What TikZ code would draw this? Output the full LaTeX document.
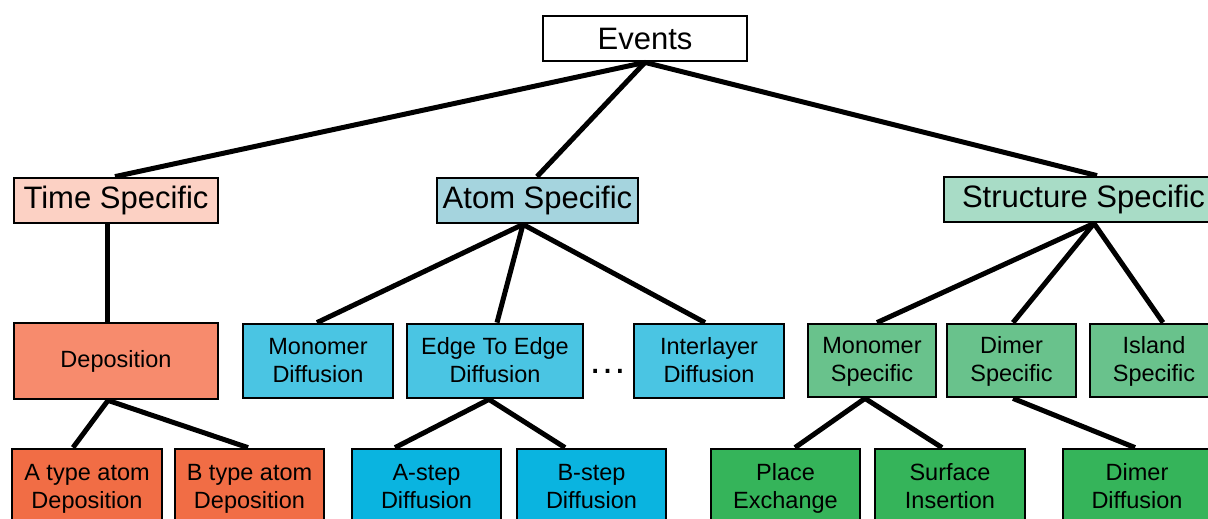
\documentclass[tikz,border=0pt]{standalone}
\usepackage{fontspec}
\setmainfont{Liberation Sans}
\usetikzlibrary{calc}

\definecolor{timeLight}{HTML}{FCD1C4}
\definecolor{timeMid}{HTML}{F78B6D}
\definecolor{timeDark}{HTML}{F16D45}
\definecolor{atomLight}{HTML}{A5D4DE}
\definecolor{atomMid}{HTML}{4AC5E3}
\definecolor{atomDark}{HTML}{0AB4E0}
\definecolor{structLight}{HTML}{A8DCC6}
\definecolor{structMid}{HTML}{69C28C}
\definecolor{structDark}{HTML}{35B45A}

% uniform line height for two-line labels
\newcommand\lnstrut{\rule[-4.5pt]{0pt}{24pt}}
\newcommand\twolines[2]{\lnstrut#1\\\lnstrut#2}

\tikzset{
  box/.style={draw=black, line width=2.8pt, inner sep=0pt, align=center, text=black},
  topbox/.style={box, minimum width=204pt, minimum height=45pt,
                 font=\fontsize{31}{37}\selectfont},
  catbox/.style={box, minimum height=45pt, font=\fontsize{31}{37}\selectfont},
  subbox/.style={box, minimum height=74pt, font=\fontsize{23.5}{28}\selectfont},
  link/.style={draw=black, line width=5pt},
}

\begin{document}
\begin{tikzpicture}[x=1pt, y=-1pt]
\useasboundingbox (0,0) rectangle (1208,519);
\clip (0,0) rectangle (1208,519);

% root
\node[topbox, fill=white] (ev) at (645,38.5) {Events};

% categories
\node[catbox, fill=timeLight,   minimum width=204pt] (ts) at (116,200.5)  {Time Specific};
\node[catbox, fill=atomLight,   minimum width=201pt] (as) at (537.5,200.5) {Atom Specific};
\node[catbox, fill=structLight, minimum width=279pt] (ss) at (1083.5,199.5) {Structure Specific};

% second level
\node[subbox, fill=timeMid, minimum width=204pt, minimum height=76pt] (dep) at (116,361) {Deposition};
\node[subbox, fill=atomMid, minimum width=150pt] (md) at (318,361) {\twolines{Monomer}{Diffusion}};
\node[subbox, fill=atomMid, minimum width=176pt] (ee) at (495,361) {\twolines{Edge To Edge}{Diffusion}};
\node[subbox, fill=atomMid, minimum width=150pt] (il) at (709,361) {\twolines{Interlayer}{Diffusion}};
\node[anchor=base, font=\fontsize{39}{40}\selectfont] (dots) at (608,373.5) {…};
\node[subbox, fill=structMid, minimum width=128pt, minimum height=73pt] (ms) at (872,360.5)  {\twolines{Monomer}{Specific}};
\node[subbox, fill=structMid, minimum width=129pt, minimum height=73pt] (ds) at (1011.5,360.5) {\twolines{Dimer}{Specific}};
\node[subbox, fill=structMid, minimum width=128pt, minimum height=73pt] (is) at (1154,360.5)  {\twolines{Island}{Specific}};

% third level
\node[subbox, fill=timeDark,   minimum width=150pt, minimum height=76pt] (at) at (87,487)    {\twolines{A type atom}{Deposition}};
\node[subbox, fill=timeDark,   minimum width=149pt, minimum height=76pt] (bt) at (249.5,487) {\twolines{B type atom}{Deposition}};
\node[subbox, fill=atomDark,   minimum width=149pt, minimum height=76pt] (sa) at (426.5,487) {\twolines{A-step}{Diffusion}};
\node[subbox, fill=atomDark,   minimum width=149pt, minimum height=76pt] (sb) at (591.5,487) {\twolines{B-step}{Diffusion}};
\node[subbox, fill=structDark, minimum width=149pt, minimum height=76pt] (pe) at (785.5,487) {\twolines{Place}{Exchange}};
\node[subbox, fill=structDark, minimum width=150pt, minimum height=76pt] (si) at (950,487)   {\twolines{Surface}{Insertion}};
\node[subbox, fill=structDark, minimum width=148pt, minimum height=76pt] (dd) at (1137,487)  {\twolines{Dimer}{Diffusion}};

% connectors
\draw[link] (ev.south) -- ($(ts.north)+(-1,0)$);
\draw[link] (ev.south) -- ($(as.north)+(-0.5,0)$);
\draw[link] (ev.south) -- ($(ss.north)+(13.5,0)$);

\draw[link] ($(ts.south)+(-9,0)$) -- ($(dep.north)+(-9,0)$);

\draw[link] ($(as.south)+(-14.5,0)$) -- ($(md.north)+(-1,0)$);
\draw[link] ($(as.south)+(-14.5,0)$) -- ($(ee.north)+(2,0)$);
\draw[link] ($(as.south)+(-14.5,0)$) -- ($(il.north)+(-4,0)$);

\draw[link] ($(ss.south)+(10.5,0)$) -- ($(ms.north)+(5,0)$);
\draw[link] ($(ss.south)+(10.5,0)$) -- ($(ds.north)+(1.5,0)$);
\draw[link] ($(ss.south)+(10.5,0)$) -- ($(is.north)+(9,0)$);

\draw[link] ($(dep.south)+(-8,0)$) -- ($(at.north)+(-14,0)$);
\draw[link] ($(dep.south)+(-8,0)$) -- ($(bt.north)+(-1.5,0)$);

\draw[link] ($(ee.south)+(-6,0)$) -- ($(sa.north)+(-31.5,0)$);
\draw[link] ($(ee.south)+(-6,0)$) -- ($(sb.north)+(-26.5,0)$);

\draw[link] ($(ms.south)+(-7,0)$) -- ($(pe.north)+(9.5,0)$);
\draw[link] ($(ms.south)+(-7,0)$) -- ($(si.north)+(-8,0)$);

\draw[link] ($(ds.south)+(1.5,0)$) -- ($(dd.north)+(-2,0)$);
\end{tikzpicture}
\end{document}
